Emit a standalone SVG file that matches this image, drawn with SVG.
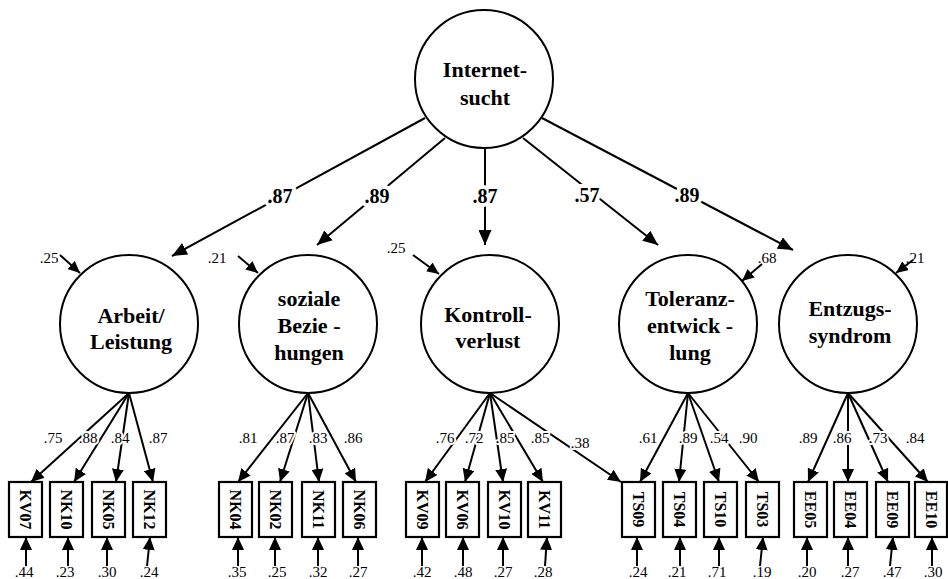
<svg xmlns="http://www.w3.org/2000/svg" width="948" height="579" viewBox="0 0 948 579" font-family="'Liberation Serif', 'DejaVu Serif', serif">
  <style>
    .ln { stroke:#000; stroke-width:2; fill:none; }
    .nd { fill:#fff; stroke:#000; stroke-width:2; }
    .bx { fill:#fff; stroke:#000; stroke-width:2.2; }
    text { font-family:'Liberation Serif', 'DejaVu Serif', serif; }
    .nm { font-weight:bold; font-size:22px; text-anchor:middle; fill:#000; }
    .cf { font-weight:bold; font-size:20px; text-anchor:middle; fill:#000; stroke:#fff; stroke-width:8; paint-order:stroke; stroke-linejoin:round; }
    .ld { font-size:15px; text-anchor:middle; fill:#000; stroke:#fff; stroke-width:4; paint-order:stroke; stroke-linejoin:round; }
    .er { font-size:15px; text-anchor:middle; fill:#000; }
    .vr { font-weight:bold; font-size:16px; text-anchor:middle; fill:#000; }
  </style>
  <defs>
    <marker id="big" markerUnits="userSpaceOnUse" markerWidth="15" markerHeight="13" viewBox="0 0 15 13" refX="15" refY="6.5" orient="auto">
      <path d="M0,0 L15,6.5 L0,13 z" fill="#000"/>
    </marker>
    <marker id="mid" markerUnits="userSpaceOnUse" markerWidth="13" markerHeight="12" viewBox="0 0 13 12" refX="13" refY="6" orient="auto">
      <path d="M0,0 L13,6 L0,12 z" fill="#000"/>
    </marker>
    <marker id="sm" markerUnits="userSpaceOnUse" markerWidth="12" markerHeight="11" viewBox="0 0 12 11" refX="12" refY="5.5" orient="auto">
      <path d="M0,0 L12,5.5 L0,11 z" fill="#000"/>
    </marker>
  </defs>
  <rect width="948" height="579" fill="#fff"/>

  <!-- paths: second-order factor to first-order factors, loadings, residuals -->
  <g id="connectors">
    <!-- structural paths -->
    <line class="ln" x1="425" y1="118" x2="172" y2="256" marker-end="url(#big)"/>
    <line class="ln" x1="445" y1="138" x2="317" y2="245" marker-end="url(#big)"/>
    <line class="ln" x1="485" y1="148" x2="485" y2="245" marker-end="url(#big)"/>
    <line class="ln" x1="523" y1="138" x2="658" y2="245" marker-end="url(#big)"/>
    <line class="ln" x1="542" y1="118" x2="793" y2="250" marker-end="url(#big)"/>

    <!-- disturbances of first-order factors -->
    <line class="ln" x1="60" y1="255" x2="80" y2="273" marker-end="url(#sm)"/>
    <line class="ln" x1="238" y1="256" x2="258" y2="273" marker-end="url(#sm)"/>
    <line class="ln" x1="413" y1="255" x2="439" y2="274" marker-end="url(#sm)"/>
    <line class="ln" x1="762" y1="264" x2="742" y2="281" marker-end="url(#sm)"/>
    <line class="ln" x1="913" y1="260" x2="896" y2="273" marker-end="url(#sm)"/>

    <!-- loadings: Arbeit/Leistung -->
    <line class="ln" x1="129" y1="393" x2="31" y2="482" marker-end="url(#mid)"/>
    <line class="ln" x1="129" y1="393" x2="74" y2="482" marker-end="url(#mid)"/>
    <line class="ln" x1="129" y1="393" x2="116" y2="482" marker-end="url(#mid)"/>
    <line class="ln" x1="129" y1="393" x2="153" y2="482" marker-end="url(#mid)"/>
    <!-- loadings: soziale Beziehungen -->
    <line class="ln" x1="308" y1="393" x2="238" y2="482" marker-end="url(#mid)"/>
    <line class="ln" x1="308" y1="393" x2="280" y2="482" marker-end="url(#mid)"/>
    <line class="ln" x1="308" y1="393" x2="319" y2="482" marker-end="url(#mid)"/>
    <line class="ln" x1="308" y1="393" x2="356" y2="482" marker-end="url(#mid)"/>
    <!-- loadings: Kontrollverlust -->
    <line class="ln" x1="490" y1="393" x2="425" y2="482" marker-end="url(#mid)"/>
    <line class="ln" x1="490" y1="393" x2="465" y2="482" marker-end="url(#mid)"/>
    <line class="ln" x1="490" y1="393" x2="503" y2="482" marker-end="url(#mid)"/>
    <line class="ln" x1="490" y1="393" x2="543" y2="482" marker-end="url(#mid)"/>
    <line class="ln" x1="490" y1="393" x2="621" y2="482" marker-end="url(#mid)"/>
    <!-- loadings: Toleranzentwicklung -->
    <line class="ln" x1="688" y1="393" x2="640" y2="482" marker-end="url(#mid)"/>
    <line class="ln" x1="688" y1="393" x2="679" y2="482" marker-end="url(#mid)"/>
    <line class="ln" x1="688" y1="393" x2="719" y2="482" marker-end="url(#mid)"/>
    <line class="ln" x1="688" y1="393" x2="759" y2="482" marker-end="url(#mid)"/>
    <!-- loadings: Entzugssyndrom -->
    <line class="ln" x1="848" y1="393" x2="808" y2="482" marker-end="url(#mid)"/>
    <line class="ln" x1="848" y1="393" x2="848" y2="482" marker-end="url(#mid)"/>
    <line class="ln" x1="848" y1="393" x2="888" y2="482" marker-end="url(#mid)"/>
    <line class="ln" x1="848" y1="393" x2="928" y2="482" marker-end="url(#mid)"/>

    <!-- measurement errors -->
    <line class="ln" x1="26" y1="566" x2="26" y2="537" marker-end="url(#mid)"/>
    <line class="ln" x1="68" y1="566" x2="68" y2="537" marker-end="url(#mid)"/>
    <line class="ln" x1="107" y1="566" x2="107" y2="537" marker-end="url(#mid)"/>
    <line class="ln" x1="147" y1="566" x2="150" y2="537" marker-end="url(#mid)"/>
    <line class="ln" x1="238" y1="566" x2="238" y2="537" marker-end="url(#mid)"/>
    <line class="ln" x1="275" y1="566" x2="275" y2="537" marker-end="url(#mid)"/>
    <line class="ln" x1="318" y1="566" x2="318" y2="537" marker-end="url(#mid)"/>
    <line class="ln" x1="358" y1="566" x2="358" y2="537" marker-end="url(#mid)"/>
    <line class="ln" x1="422" y1="566" x2="422" y2="537" marker-end="url(#mid)"/>
    <line class="ln" x1="463" y1="566" x2="463" y2="537" marker-end="url(#mid)"/>
    <line class="ln" x1="503" y1="566" x2="503" y2="537" marker-end="url(#mid)"/>
    <line class="ln" x1="545" y1="566" x2="547" y2="537" marker-end="url(#mid)"/>
    <line class="ln" x1="637" y1="566" x2="637" y2="537" marker-end="url(#mid)"/>
    <line class="ln" x1="680" y1="566" x2="680" y2="537" marker-end="url(#mid)"/>
    <line class="ln" x1="719" y1="566" x2="719" y2="537" marker-end="url(#mid)"/>
    <line class="ln" x1="760" y1="566" x2="763" y2="537" marker-end="url(#mid)"/>
    <line class="ln" x1="807" y1="566" x2="807" y2="537" marker-end="url(#mid)"/>
    <line class="ln" x1="848" y1="566" x2="848" y2="537" marker-end="url(#mid)"/>
    <line class="ln" x1="890" y1="566" x2="893" y2="537" marker-end="url(#mid)"/>
    <line class="ln" x1="932" y1="566" x2="932" y2="537" marker-end="url(#mid)"/>

    <!-- path coefficients -->
    <text class="cf" x="280" y="203">.87</text>
    <text class="cf" x="377" y="203">.89</text>
    <text class="cf" x="485" y="203">.87</text>
    <text class="cf" x="587" y="202">.57</text>
    <text class="cf" x="687" y="202">.89</text>

    <!-- disturbance values -->
    <text class="er" x="49" y="263">.25</text>
    <text class="er" x="217" y="263">.21</text>
    <text class="er" x="396" y="253">.25</text>
    <text class="er" x="767" y="263">.68</text>
    <text class="er" x="915" y="263">.21</text>

    <!-- loading values -->
    <text class="ld" x="53" y="443">.75</text>
    <text class="ld" x="88" y="443">.88</text>
    <text class="ld" x="120" y="443">.84</text>
    <text class="ld" x="158" y="443">.87</text>
    <text class="ld" x="248" y="443">.81</text>
    <text class="ld" x="285" y="443">.87</text>
    <text class="ld" x="318" y="443">.83</text>
    <text class="ld" x="353" y="443">.86</text>
    <text class="ld" x="445" y="443">.76</text>
    <text class="ld" x="474" y="443">.72</text>
    <text class="ld" x="505" y="443">.85</text>
    <text class="ld" x="540" y="443">.85</text>
    <text class="ld" x="580" y="448">.38</text>
    <text class="ld" x="648" y="443">.61</text>
    <text class="ld" x="688" y="443">.89</text>
    <text class="ld" x="719" y="443">.54</text>
    <text class="ld" x="748" y="443">.90</text>
    <text class="ld" x="808" y="443">.89</text>
    <text class="ld" x="842" y="443">.86</text>
    <text class="ld" x="878" y="443">.73</text>
    <text class="ld" x="915" y="443">.84</text>

    <!-- error variances -->
    <text class="er" x="24" y="577">.44</text>
    <text class="er" x="65" y="577">.23</text>
    <text class="er" x="107" y="577">.30</text>
    <text class="er" x="149" y="577">.24</text>
    <text class="er" x="237" y="577">.35</text>
    <text class="er" x="277" y="577">.25</text>
    <text class="er" x="318" y="577">.32</text>
    <text class="er" x="358" y="577">.27</text>
    <text class="er" x="422" y="577">.42</text>
    <text class="er" x="463" y="577">.48</text>
    <text class="er" x="503" y="577">.27</text>
    <text class="er" x="543" y="577">.28</text>
    <text class="er" x="638" y="577">.24</text>
    <text class="er" x="677" y="577">.21</text>
    <text class="er" x="717" y="577">.71</text>
    <text class="er" x="762" y="577">.19</text>
    <text class="er" x="807" y="577">.20</text>
    <text class="er" x="850" y="577">.27</text>
    <text class="er" x="892" y="577">.47</text>
    <text class="er" x="933" y="577">.30</text>
  </g>

  <!-- second-order factor -->
  <g id="internetsucht">
    <circle class="nd" cx="484" cy="79" r="69"/>
    <text class="nm" x="485" y="77">Internet-</text>
    <text class="nm" x="485" y="105">sucht</text>
  </g>

  <!-- first-order factors -->
  <g id="arbeit">
    <circle class="nd" cx="129" cy="324" r="69"/>
    <text class="nm" x="131" y="323">Arbeit/</text>
    <text class="nm" x="131" y="349">Leistung</text>
  </g>
  <g id="soziale">
    <circle class="nd" cx="308" cy="324" r="69"/>
    <text class="nm" x="309" y="306">soziale</text>
    <text class="nm" x="309" y="333">Bezie -</text>
    <text class="nm" x="309" y="360">hungen</text>
  </g>
  <g id="kontrollverlust">
    <circle class="nd" cx="490" cy="324" r="69"/>
    <text class="nm" x="488" y="322">Kontroll-</text>
    <text class="nm" x="488" y="348">verlust</text>
  </g>
  <g id="toleranz">
    <circle class="nd" cx="688" cy="324" r="69"/>
    <text class="nm" x="690" y="306">Toleranz-</text>
    <text class="nm" x="690" y="333">entwick -</text>
    <text class="nm" x="690" y="360">lung</text>
  </g>
  <g id="entzug">
    <circle class="nd" cx="848" cy="324" r="69"/>
    <text class="nm" x="850" y="316">Entzugs-</text>
    <text class="nm" x="850" y="343">syndrom</text>
  </g>

  <!-- observed indicators (labels read top to bottom) -->
  <g id="KV07"><rect class="bx" x="9" y="482" width="33" height="55"/><text class="vr" transform="translate(25.5,509.5) rotate(90)" y="5.5">KV07</text></g>
  <g id="NK10"><rect class="bx" x="50" y="482" width="33" height="55"/><text class="vr" transform="translate(66.5,509.5) rotate(90)" y="5.5">NK10</text></g>
  <g id="NK05"><rect class="bx" x="92" y="482" width="33" height="55"/><text class="vr" transform="translate(108.5,509.5) rotate(90)" y="5.5">NK05</text></g>
  <g id="NK12"><rect class="bx" x="133" y="482" width="33" height="55"/><text class="vr" transform="translate(149.5,509.5) rotate(90)" y="5.5">NK12</text></g>

  <g id="NK04"><rect class="bx" x="219" y="482" width="33" height="55"/><text class="vr" transform="translate(235.5,509.5) rotate(90)" y="5.5">NK04</text></g>
  <g id="NK02"><rect class="bx" x="259" y="482" width="33" height="55"/><text class="vr" transform="translate(275.5,509.5) rotate(90)" y="5.5">NK02</text></g>
  <g id="NK11"><rect class="bx" x="302" y="482" width="33" height="55"/><text class="vr" transform="translate(318.5,509.5) rotate(90)" y="5.5">NK11</text></g>
  <g id="NK06"><rect class="bx" x="343" y="482" width="33" height="55"/><text class="vr" transform="translate(359.5,509.5) rotate(90)" y="5.5">NK06</text></g>

  <g id="KV09"><rect class="bx" x="406" y="482" width="33" height="55"/><text class="vr" transform="translate(422.5,509.5) rotate(90)" y="5.5">KV09</text></g>
  <g id="KV06"><rect class="bx" x="446" y="482" width="33" height="55"/><text class="vr" transform="translate(462.5,509.5) rotate(90)" y="5.5">KV06</text></g>
  <g id="KV10"><rect class="bx" x="488" y="482" width="33" height="55"/><text class="vr" transform="translate(504.5,509.5) rotate(90)" y="5.5">KV10</text></g>
  <g id="KV11"><rect class="bx" x="528" y="482" width="33" height="55"/><text class="vr" transform="translate(544.5,509.5) rotate(90)" y="5.5">KV11</text></g>

  <g id="TS09"><rect class="bx" x="622" y="482" width="33" height="55"/><text class="vr" transform="translate(638.5,509.5) rotate(90)" y="5.5">TS09</text></g>
  <g id="TS04"><rect class="bx" x="663" y="482" width="33" height="55"/><text class="vr" transform="translate(679.5,509.5) rotate(90)" y="5.5">TS04</text></g>
  <g id="TS10"><rect class="bx" x="704" y="482" width="33" height="55"/><text class="vr" transform="translate(720.5,509.5) rotate(90)" y="5.5">TS10</text></g>
  <g id="TS03"><rect class="bx" x="746" y="482" width="33" height="55"/><text class="vr" transform="translate(762.5,509.5) rotate(90)" y="5.5">TS03</text></g>

  <g id="EE05"><rect class="bx" x="794" y="482" width="33" height="55"/><text class="vr" transform="translate(810.5,509.5) rotate(90)" y="5.5">EE05</text></g>
  <g id="EE04"><rect class="bx" x="834" y="482" width="33" height="55"/><text class="vr" transform="translate(850.5,509.5) rotate(90)" y="5.5">EE04</text></g>
  <g id="EE09"><rect class="bx" x="876" y="482" width="33" height="55"/><text class="vr" transform="translate(892.5,509.5) rotate(90)" y="5.5">EE09</text></g>
  <g id="EE10"><rect class="bx" x="915" y="482" width="32" height="55"/><text class="vr" transform="translate(931,509.5) rotate(90)" y="5.5">EE10</text></g>
</svg>
